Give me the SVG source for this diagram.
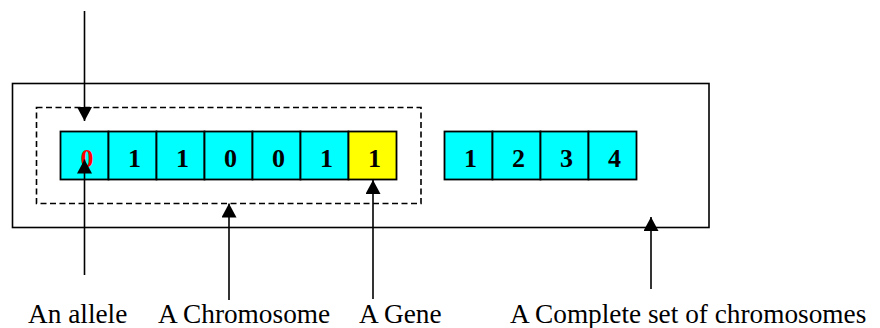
<svg xmlns="http://www.w3.org/2000/svg" width="880" height="328" viewBox="0 0 880 328">
  <style>
    .frame { fill: none; stroke: #000; stroke-width: 1.6; }
    .dashed { fill: none; stroke: #000; stroke-width: 1.6; stroke-dasharray: 6 3.5; }
    .cell { stroke: #000; stroke-width: 1.8; }
    .cyan { fill: #00ffff; }
    .yellow { fill: #ffff00; }
    .digit { font-family: 'Liberation Serif', 'DejaVu Serif', serif; font-weight: bold; font-size: 26px; text-anchor: middle; fill: #000; }
    .red { fill: #ff0000; }
    .label { font-family: 'Liberation Serif', 'DejaVu Serif', serif; font-size: 27.3px; fill: #000; }
    .arrow { stroke: #000; stroke-width: 1.6; fill: none; marker-end: url(#head); }
  </style>
  <defs>
    <marker id="head" viewBox="0 0 14 15" refX="14" refY="7.5" markerWidth="14" markerHeight="15" markerUnits="userSpaceOnUse" orient="auto">
      <path d="M0,0 L14,7.5 L0,15 Z" fill="#000"/>
    </marker>
  </defs>

  <!-- complete set of chromosomes -->
  <g id="chromosome-set">
    <rect class="frame" x="12.5" y="83.5" width="696.5" height="144"/>
  </g>

  <!-- first chromosome with dashed outline -->
  <g id="chromosome-1">
    <rect class="dashed" x="36.5" y="107.5" width="384.5" height="96"/>
    <rect class="cell cyan" x="60.5" y="131.5" width="48" height="48"/>
    <rect class="cell cyan" x="108.5" y="131.5" width="48" height="48"/>
    <rect class="cell cyan" x="156.5" y="131.5" width="48" height="48"/>
    <rect class="cell cyan" x="204.5" y="131.5" width="48" height="48"/>
    <rect class="cell cyan" x="252.5" y="131.5" width="48" height="48"/>
    <rect class="cell cyan" x="300.5" y="131.5" width="48" height="48"/>
    <rect class="cell yellow" x="348.5" y="131.5" width="48" height="48"/>
    <text class="digit red" x="87" y="166.5">0</text>
    <text class="digit" x="134.5" y="166.5">1</text>
    <text class="digit" x="182.5" y="166.5">1</text>
    <text class="digit" x="230.5" y="166.5">0</text>
    <text class="digit" x="278.5" y="166.5">0</text>
    <text class="digit" x="326.5" y="166.5">1</text>
    <text class="digit" x="374.5" y="166.5">1</text>
  </g>

  <!-- second chromosome -->
  <g id="chromosome-2">
    <rect class="cell cyan" x="444.5" y="131.5" width="48" height="48"/>
    <rect class="cell cyan" x="492.5" y="131.5" width="48" height="48"/>
    <rect class="cell cyan" x="540.5" y="131.5" width="48" height="48"/>
    <rect class="cell cyan" x="588.5" y="131.5" width="48" height="48"/>
    <text class="digit" x="470.5" y="166.5">1</text>
    <text class="digit" x="518.5" y="166.5">2</text>
    <text class="digit" x="566.5" y="166.5">3</text>
    <text class="digit" x="614.5" y="166.5">4</text>
  </g>

  <!-- pointers -->
  <g id="connectors">
    <line class="arrow" x1="84.5" y1="11" x2="84.5" y2="121"/>
    <line class="arrow" x1="84.5" y1="275" x2="84.5" y2="159.5"/>
    <line class="arrow" x1="229" y1="300" x2="229" y2="203.5"/>
    <line class="arrow" x1="373" y1="299" x2="373" y2="180"/>
    <line class="arrow" x1="651" y1="289" x2="651" y2="217"/>
  </g>

  <!-- captions -->
  <g id="labels">
    <text class="label" x="28" y="323">An allele</text>
    <text class="label" x="158" y="323">A Chromosome</text>
    <text class="label" x="359" y="323">A Gene</text>
    <text class="label" x="510" y="323">A Complete set of chromosomes</text>
  </g>
</svg>
